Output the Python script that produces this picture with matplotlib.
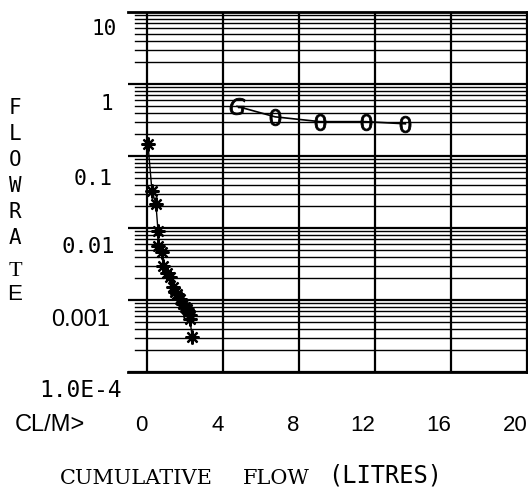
import matplotlib
matplotlib.use("Agg")
import matplotlib.pyplot as plt
import matplotlib.transforms as mtransforms
import numpy as np

# ---- data ----
star_x = [0.05, 0.26, 0.47, 0.58, 0.58, 0.79, 0.84, 1.05, 1.21, 1.37, 1.47,
          1.58, 1.74, 1.89, 2.00, 2.10, 2.18, 2.26, 2.26, 2.37]
star_y = [0.147, 0.033, 0.0215, 0.0091, 0.0056, 0.0046, 0.0030, 0.0024,
          0.0021, 0.0015, 0.0013, 0.0012, 0.00102, 0.00087, 0.0008,
          0.00075, 0.00068, 0.00062, 0.00055, 0.00031]

circ_x = [4.74, 6.74, 9.1, 11.5, 13.6]
circ_y = [0.49, 0.35, 0.30, 0.30, 0.28]

x_ticks = [0, 4, 8, 12, 16, 20]
x_tick_labels = ["0", "4", "8", "12", "16", "20"]
y_ticks = [1e-4, 1e-3, 1e-2, 1e-1, 1, 10]
y_tick_labels = ["1.0E-4", "0.001", "0.01", "0.1", "1", "10"]

W, H = 528, 489
fig = plt.figure(figsize=(W / 100, H / 100), dpi=100)
ax = fig.add_axes([128 / W, 1 - 373 / H, 399 / W, 360 / H])
ax.set_yscale("log")
ax.set_xlim(-1, 20)
ax.set_ylim(1e-4, 10)

# spines
ax.spines["left"].set_visible(False)
for s in ("top", "bottom", "right"):
    ax.spines[s].set_linewidth(2)
    ax.spines[s].set_color("black")

# grid
ax.set_xticks(x_ticks)
ax.set_xticklabels(x_tick_labels)
ax.set_yticks(y_ticks)
ax.set_yticklabels(y_tick_labels)
ax.grid(True, which="major", axis="x", color="black", lw=1.6)
ax.grid(True, which="major", axis="y", color="black", lw=1.6)
for dec in y_ticks[:-1]:
    for m in range(2, 10):
        ax.axhline(dec * m, xmin=7 / 399, xmax=1, color="black", lw=1.0, zorder=1)

ax.set_xticks([0, 20], minor=True)
ax.yaxis.set_minor_locator(matplotlib.ticker.NullLocator())
ax.tick_params(axis="x", which="minor", direction="out", length=14, width=2.2, color="black")
ax.tick_params(axis="x", which="major", length=0, pad=30, labelsize=16)
ax.tick_params(axis="y", which="both", length=0, pad=0)

for lab in ax.get_xticklabels():
    lab.set_fontfamily("Liberation Sans")
    lab.set_horizontalalignment("right")
    lab.set_transform(lab.get_transform() +
                      mtransforms.ScaledTranslation(0.005, 0, fig.dpi_scale_trans))

# per-label placement (family, size, right edge px, downward offset px)
ylab_style = {
    "10": ("DejaVu Sans Mono", 15, 117, 14),
    "1": ("DejaVu Sans Mono", 15, 113, 17),
    "0.1": ("DejaVu Sans Mono", 15.5, 113, 20),
    "0.01": ("DejaVu Sans Mono", 16, 115, 16),
    "0.001": ("Liberation Sans", 17, 110, 17),
    "1.0E-4": ("DejaVu Sans Mono", 16.5, 122, 15),
}
for lab in ax.get_yticklabels():
    fam, fs, right, down = ylab_style[lab.get_text()]
    lab.set_fontfamily(fam)
    lab.set_fontsize(fs)
    lab.set_transform(lab.get_transform() +
                      mtransforms.ScaledTranslation((right - 128) / 100, -down / 100,
                                                    fig.dpi_scale_trans))

# data
ax.plot(star_x, star_y, color="black", lw=1.0, marker=(8, 2, 0),
        markersize=10, markeredgewidth=1.6, zorder=5, clip_on=False)
ax.plot(circ_x, circ_y, color="black", lw=1.2, zorder=5)
ax.plot(circ_x[:1], circ_y[:1], ls="none", marker="$G$", markersize=12,
        color="black", markeredgewidth=0.6, zorder=6)
ax.plot(circ_x[1:], circ_y[1:], ls="none", marker="$0$", markersize=12,
        color="black", markeredgewidth=0.6, zorder=6)

# axis titles
fig.text(15 / W, 1 - 173 / H, "F\nL\nO\nW\nR\nA", family="DejaVu Sans Mono",
         fontsize=15, ha="center", va="center", linespacing=1.38)
fig.text(15 / W, 1 - 271 / H, "T", family="Liberation Serif",
         fontsize=16, ha="center", va="center")
fig.text(15 / W, 1 - 295 / H, "E", family="Liberation Sans",
         fontsize=16, ha="center", va="center")
fig.text(15 / W, 1 - 425 / H, "CL/M>", family="Liberation Sans", fontsize=17,
         ha="left", va="center")
fig.text(60 / W, 1 - 479 / H, "CUMULATIVE", family="DejaVu Serif",
         fontsize=15, ha="left", va="center")
fig.text(243 / W, 1 - 479 / H, "FLOW", family="DejaVu Serif",
         fontsize=15, ha="left", va="center")
fig.text(328 / W, 1 - 476 / H, "(LITRES)", family="DejaVu Sans Mono",
         fontsize=17, ha="left", va="center")

fig.savefig("out.png", dpi=100, facecolor="white")
